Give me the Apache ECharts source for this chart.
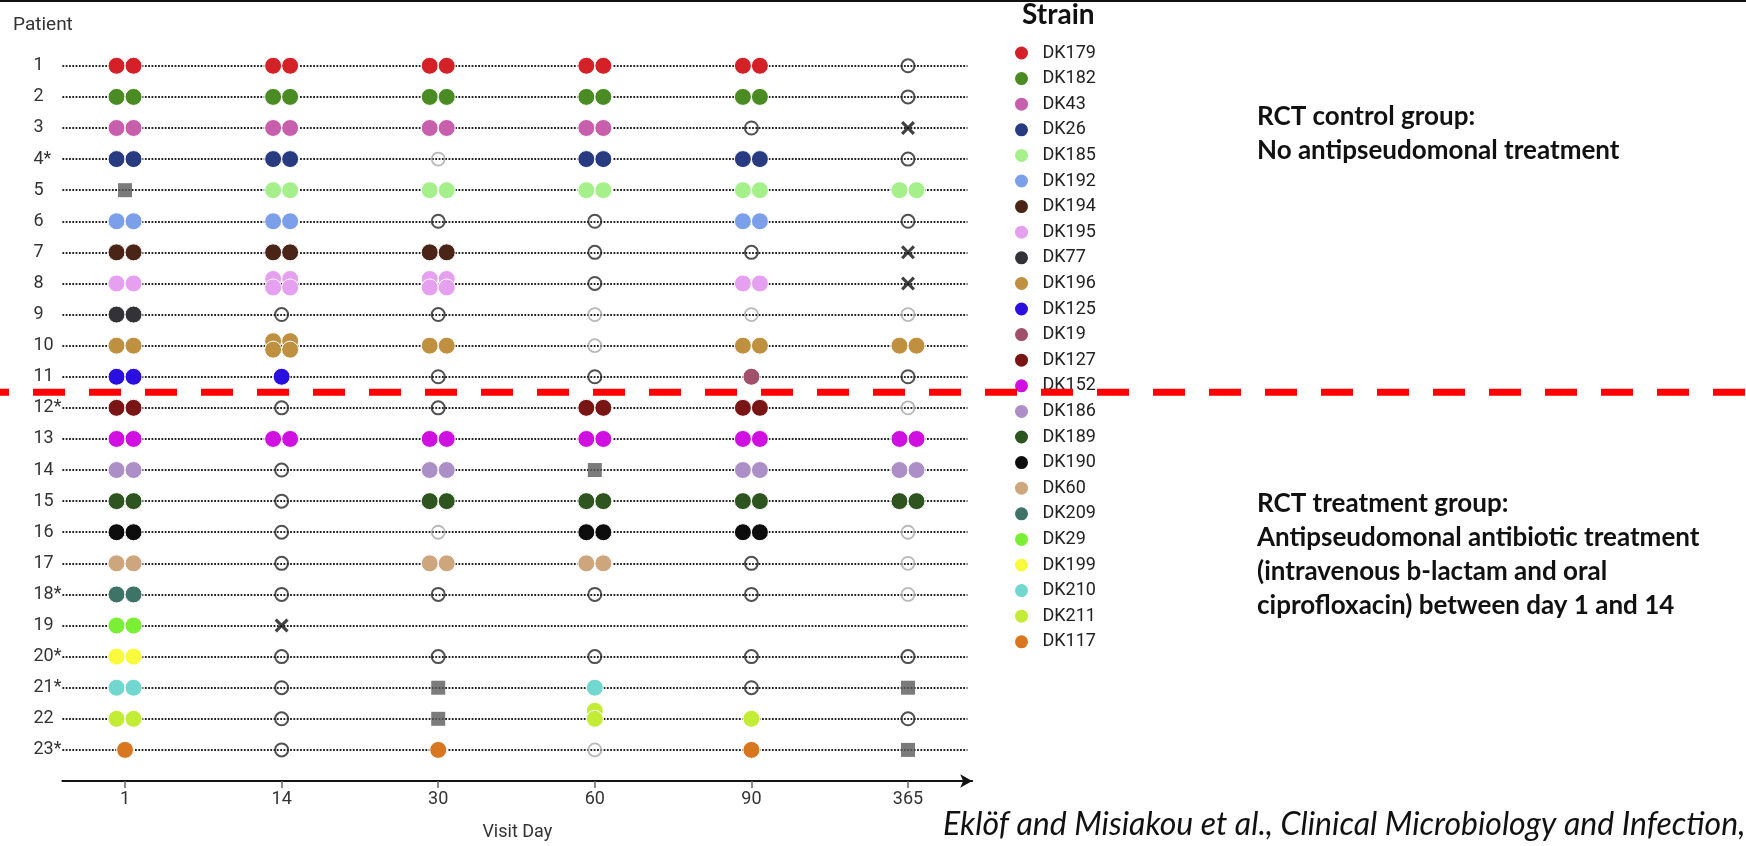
<!DOCTYPE html>
<html><head><meta charset="utf-8">
<script src="https://cdn.jsdelivr.net/npm/echarts@6/dist/echarts.min.js"></script>
<style>html,body{margin:0;padding:0;background:#fff}#c{width:1746px;height:846px}</style>
</head><body><div id="c"></div>
<script>
// ---------- data ----------
const visitDays = ['1', '14', '30', '60', '90', '365'];
const patients = ['1','2','3','4*','5','6','7','8','9','10','11','12*','13','14','15','16','17','18*','19','20*','21*','22','23*'];
const strains = ['DK179','DK182','DK43','DK26','DK185','DK192','DK194','DK195','DK77','DK196','DK125','DK19','DK127','DK152','DK186','DK189','DK190','DK60','DK209','DK29','DK199','DK210','DK211','DK117'];
const strainColors = ['#d42027','#4a8c23','#c75fad','#283a80','#a5f08a','#7b9fe8','#4a2416','#e5a0f0','#323238','#bf9040','#2a0fe0','#a0506a','#7a1515','#d010e0','#ad8fc8','#2e5520','#0d0d0d','#cda67e','#3e7468','#7aef35','#fafa3c','#72d8cf','#c2ec35','#d97720'];
// cell codes: "STRAIN:n" isolates (2 pair, 4 double pair, 1 single, v stacked),
// S = grey square, O = dark open circle, L = light open circle, X = cross, - = none
const visitResults = [
  ['DK179:2','DK179:2','DK179:2','DK179:2','DK179:2','O'],
  ['DK182:2','DK182:2','DK182:2','DK182:2','DK182:2','O'],
  ['DK43:2','DK43:2','DK43:2','DK43:2','O','X'],
  ['DK26:2','DK26:2','L','DK26:2','DK26:2','O'],
  ['S','DK185:2','DK185:2','DK185:2','DK185:2','DK185:2'],
  ['DK192:2','DK192:2','O','O','DK192:2','O'],
  ['DK194:2','DK194:2','DK194:2','O','O','X'],
  ['DK195:2','DK195:4','DK195:4','O','DK195:2','X'],
  ['DK77:2','O','O','L','L','L'],
  ['DK196:2','DK196:4','DK196:2','L','DK196:2','DK196:2'],
  ['DK125:2','DK125:1','O','O','DK19:1','O'],
  ['DK127:2','O','O','DK127:2','DK127:2','L'],
  ['DK152:2','DK152:2','DK152:2','DK152:2','DK152:2','DK152:2'],
  ['DK186:2','O','DK186:2','S','DK186:2','DK186:2'],
  ['DK189:2','O','DK189:2','DK189:2','DK189:2','DK189:2'],
  ['DK190:2','O','L','DK190:2','DK190:2','L'],
  ['DK60:2','O','DK60:2','DK60:2','O','L'],
  ['DK209:2','O','O','O','O','L'],
  ['DK29:2','X','-','-','-','-'],
  ['DK199:2','O','O','O','O','O'],
  ['DK210:2','O','S','DK210:1','O','S'],
  ['DK211:2','O','S','DK211:v','DK211:1','O'],
  ['DK117:1','O','DK117:1','L','DK117:1','S']
];

// ---------- build ----------
const offsets = {
  '2': [[-8.5,0],[8.5,0]],
  '4': [[-8.5,-4.5],[8.5,-4.5],[-8.5,4],[8.5,4]],
  '1': [[0,0]],
  'v': [[0,-8],[0,0]]
};
const strainData = strains.map(() => []);
const squares = [], openDark = [], openLight = [], crosses = [], rowLines = [];
visitResults.forEach((row, r) => {
  const y = r + 1;
  rowLines.push({coords: [[-0.4, y], [5.38, y]]});
  row.forEach((code, c) => {
    if (code === 'S') squares.push([c, y]);
    else if (code === 'O') openDark.push([c, y]);
    else if (code === 'L') openLight.push([c, y]);
    else if (code === 'X') crosses.push([c, y]);
    else if (code.indexOf(':') > 0) {
      const [s, k] = code.split(':');
      const idx = strains.indexOf(s);
      offsets[k].forEach(o => strainData[idx].push({value: [c, y], symbolOffset: o}));
    }
  });
});

const chart = echarts.init(document.getElementById('c'), null, {renderer: 'canvas'});
const font = 'Roboto, "Noto Sans", sans-serif';
const boldFont = 'Lato, "Open Sans", sans-serif';

const series = [
  {
    type: 'lines', coordinateSystem: 'cartesian2d', silent: true, z: 1,
    data: rowLines,
    lineStyle: {color: '#222', width: 2, type: [1.8, 1.5], opacity: 1}
  },
  {
    name: 'openDark', type: 'scatter', data: openDark, symbol: 'circle', symbolSize: 13, z: 2,
    itemStyle: {color: 'rgba(0,0,0,0)', borderColor: '#262626', borderWidth: 2}
  },
  {
    name: 'openLight', type: 'scatter', data: openLight, symbol: 'circle', symbolSize: 13, z: 2,
    itemStyle: {color: 'rgba(0,0,0,0)', borderColor: '#a8a8a8', borderWidth: 1.8}
  },
  {
    name: 'square', type: 'scatter', data: squares, symbol: 'rect', symbolSize: 14, z: 3,
    itemStyle: {color: '#5a5a5a'}
  },
  {
    name: 'cross', type: 'scatter', data: crosses, z: 3,
    symbol: 'path://M1.6,0 L5,3.4 L8.4,0 L10,1.6 L6.6,5 L10,8.4 L8.4,10 L5,6.6 L1.6,10 L0,8.4 L3.4,5 L0,1.6 Z',
    symbolSize: 14, itemStyle: {color: '#111'}
  }
];
strains.forEach((s, i) => {
  series.push({
    name: s, type: 'scatter', data: strainData[i], symbol: 'circle', symbolSize: 17, z: 4,
    itemStyle: {color: strainColors[i], borderColor: '#fff', borderWidth: 1, opacity: 1}
  });
});

chart.setOption({
  animation: false,
  backgroundColor: '#fff',
  title: [
    {text: 'Patient', left: 13, top: 14, padding: 0,
     textStyle: {fontFamily: font, fontSize: 19, fontWeight: 'normal', color: '#333', lineHeight: 22}},
    {text: 'Strain', left: 1022, top: 0, padding: 0,
     textStyle: {fontFamily: boldFont, fontSize: 28, fontWeight: 'bold', color: '#111', lineHeight: 30}},
    {text: 'RCT control group:\nNo antipseudomonal treatment', left: 1257, top: 100, padding: 0,
     textStyle: {fontFamily: boldFont, fontSize: 26, fontWeight: 'bold', color: '#111', lineHeight: 34}},
    {text: 'RCT treatment group:\nAntipseudomonal antibiotic treatment\n(intravenous b-lactam and oral\nciprofloxacin) between day 1 and 14', left: 1257, top: 487, padding: 0,
     textStyle: {fontFamily: boldFont, fontSize: 26, fontWeight: 'bold', color: '#111', lineHeight: 34}},
    {text: 'Eklöf and Misiakou et al., Clinical Microbiology and Infection,', left: 943, top: 806, padding: 0,
     textStyle: {fontFamily: boldFont, fontSize: 32, fontWeight: 'normal', fontStyle: 'italic', color: '#111', lineHeight: 38}}
  ],
  legend: {
    data: strains, orient: 'vertical', left: 1013, top: 44, padding: 0,
    icon: 'circle', itemWidth: 32, itemHeight: 15, itemGap: 7.6,
    textStyle: {fontFamily: font, fontSize: 18, color: '#222', lineHeight: 17},
    selectedMode: false
  },
  grid: {left: 62.4, right: 773.8, top: 34.7, bottom: 60.7, containLabel: false},
  xAxis: {
    type: 'value', min: -0.4, max: 5.41, position: 'bottom',
    name: 'Visit Day', nameLocation: 'middle', nameGap: 42,
    nameTextStyle: {fontFamily: font, fontSize: 18, color: '#333'},
    axisLine: {show: true, onZero: false, lineStyle: {color: '#111', width: 2}, symbol: ['none', 'arrow'], symbolSize: [10, 12]},
    axisTick: {show: true, customValues: [0,1,2,3,4,5], length: 7, lineStyle: {color: '#666', width: 1.5}},
    axisLabel: {customValues: [0,1,2,3,4,5], formatter: v => visitDays[Math.round(v)], margin: 9,
      fontFamily: font, fontSize: 18, color: '#333'},
    splitLine: {show: false}
  },
  yAxis: {
    type: 'value', min: 0, max: 24, inverse: true,
    axisLine: {show: false}, axisTick: {show: false}, splitLine: {show: false},
    axisLabel: {customValues: patients.map((p, i) => i + 1), formatter: v => patients[Math.round(v) - 1],
      align: 'left', margin: 29, fontFamily: font, fontSize: 18, color: '#333'}
  },
  series: series
});

const yDiv = chart.convertToPixel({yAxisIndex: 0}, 11.5);
chart.setOption({
  graphic: [
    {type: 'rect', shape: {x: 0, y: 0, width: 1746, height: 2}, style: {fill: '#111'}, z: 100},
    {type: 'line', shape: {x1: 0, y1: yDiv, x2: 1746, y2: yDiv},
     style: {stroke: '#ff0000', lineWidth: 7, lineDash: [32, 24], lineDashOffset: 23}, z: 100}
  ]
});
</script>
</body></html>
